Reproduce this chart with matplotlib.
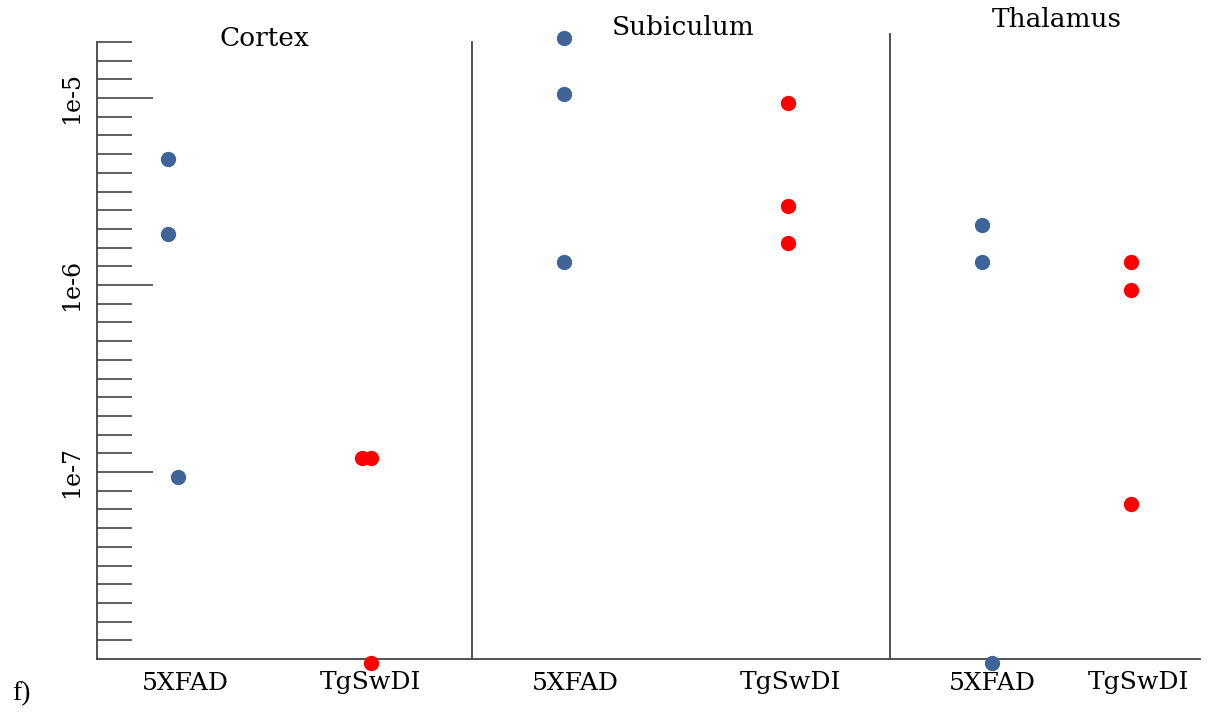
import numpy as np
import matplotlib.pyplot as plt
from matplotlib.ticker import FixedLocator, NullFormatter

plt.rcParams['font.family'] = ['DejaVu Serif']

regions = ["Cortex", "Subiculum", "Thalamus"]
strains = ["5XFAD", "TgSwDI"]

# measured values per region and strain
cortex_5xfad = [4.7e-6, 1.87e-6, 9.4e-8]
cortex_tgswdi = [1.19e-7, 1.19e-7, 9.5e-9]
subiculum_5xfad = [2.09e-5, 1.05e-5, 1.33e-6]
subiculum_tgswdi = [9.4e-6, 2.64e-6, 1.68e-6]
thalamus_5xfad = [2.1e-6, 1.33e-6, 9.5e-9]
thalamus_tgswdi = [1.33e-6, 9.4e-7, 6.75e-8]

# horizontal layout (axis units), label spots and small per-point offsets
label_x = [88, 273, 478, 693, 895, 1041]
point_x = [71, 265, 467, 691, 885, 1034]
jitter = [[0, 0, 10], [0, 9, 9], [0, 0, 0], [0, 0, 0], [0, 0, 10], [0, 0, 0]]
dividers = [375, 793]
divider_top = [1.0, 1.013]
title_pos = [(167, 1.006), (586, 1.023), (960, 1.036)]

series = [cortex_5xfad, cortex_tgswdi, subiculum_5xfad,
          subiculum_tgswdi, thalamus_5xfad, thalamus_tgswdi]
colors = ["#3f6598", "#ff0000"]

fig = plt.figure(figsize=(12.11, 7.17), dpi=100)
ax = fig.add_axes([97 / 1211, 58 / 717, 1103 / 1211, 617 / 717])

ax.set_yscale("log")
ax.set_ylim(1e-8, 10 ** -4.7)
ax.set_xlim(0, 1103)

for i, vals in enumerate(series):
    xs = [point_x[i] + j for j in jitter[i]]
    ax.plot(xs, vals, "o", ls="none", ms=10, color=colors[i % 2],
            mec=colors[i % 2], clip_on=False, zorder=5)

for d, top in zip(dividers, divider_top):
    ax.axvline(d, 0, top, color="#444444", lw=1.3, clip_on=False)

for name, (tx, ty) in zip(regions, title_pos):
    ax.text(tx, ty, name, transform=ax.get_xaxis_transform(),
            ha="center", va="center", fontsize=19)

ax.spines["top"].set_visible(False)
ax.spines["right"].set_visible(False)
for s in ["left", "bottom"]:
    ax.spines[s].set_color("#444444")
    ax.spines[s].set_linewidth(1.3)

ax.yaxis.set_major_locator(FixedLocator([1e-7, 1e-6, 1e-5]))
ax.set_yticklabels(["1e-7", "1e-6", "1e-5"], rotation=90, va="center",
                   fontsize=17)
minor = [10 ** (-8 + 0.1 * k) for k in range(1, 34) if k % 10 != 0]
ax.yaxis.set_minor_locator(FixedLocator(minor))
ax.yaxis.set_minor_formatter(NullFormatter())
ax.tick_params(axis="y", which="major", direction="in", length=40,
               width=1.2, color="#444444", pad=10)
ax.tick_params(axis="y", which="minor", direction="in", length=25,
               width=1.2, color="#444444")

ax.set_xticks(label_x)
ax.set_xticklabels(strains * 3, fontsize=18)
ax.tick_params(axis="x", length=0, pad=9)

fig.text(12 / 1211, 1 - 694 / 717, "f)", fontsize=20, va="center",
         family="Liberation Serif")

fig.savefig("out.png", dpi=100)
